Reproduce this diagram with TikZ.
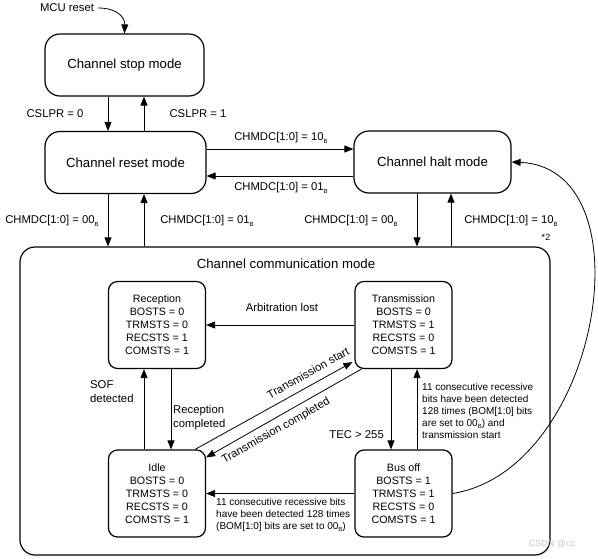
\documentclass[tikz,border=0pt]{standalone}
\usepackage{fontspec}
\setmainfont{Liberation Sans}
\usetikzlibrary{arrows.meta}
\newcommand{\sB}{\raisebox{-0.35ex}{\fontsize{6}{6}\selectfont B}}
\begin{document}
\begin{tikzpicture}[x=1pt,y=-1pt,
  mode/.style={draw, line width=1.2pt, rounded corners=15pt, minimum height=62pt, inner sep=0pt, font=\fontsize{13.2}{15}\selectfont},
  state/.style={draw, line width=1.2pt, rounded corners=9pt, minimum width=97pt, minimum height=87pt, inner sep=0pt, align=center, font=\fontsize{10.7}{13}\selectfont},
  lbl/.style={inner sep=0pt, font=\fontsize{11.3}{14}\selectfont},
  note/.style={inner sep=0pt, align=left, font=\fontsize{10}{11.9}\selectfont},
  arr/.style={line width=0.8pt, -{Triangle[length=9pt,width=7pt]}}]
\useasboundingbox (0,0) rectangle (598,558);

% mode boxes
\node[mode, minimum width=159pt] (stop) at (124.5,65) {Channel stop mode};
\node[mode, minimum width=161pt] (reset) at (125.5,162.5) {Channel reset mode};
\node[mode, minimum width=157pt] (halt) at (432.5,162) {Channel halt mode};
\node[draw, line width=1.2pt, rounded corners=15pt, minimum width=530pt, minimum height=308pt, inner sep=0pt] (comm) at (285,401) {};
\node[inner sep=0pt, font=\fontsize{13.2}{15}\selectfont] (commtitle) at (286,264) {Channel communication mode};

% state boxes
\node[state] (rec) at (157,325) {Reception\\BOSTS = 0\\TRMSTS = 0\\RECSTS = 1\\COMSTS = 1};
\node[state] (trans) at (403.5,325) {Transmission\\BOSTS = 0\\TRMSTS = 1\\RECSTS = 0\\COMSTS = 1};
\node[state] (idle) at (157,493.5) {Idle\\BOSTS = 0\\TRMSTS = 0\\RECSTS = 0\\COMSTS = 1};
\node[state] (busoff) at (403.5,493.5) {Bus off\\BOSTS = 1\\TRMSTS = 1\\RECSTS = 0\\COMSTS = 1};

% helper coordinates
\coordinate (xa) at (108,0);
\coordinate (xb) at (144,0);
\coordinate (xc) at (417,0);
\coordinate (xd) at (451,0);
\coordinate (xf) at (171,0);
\coordinate (xg) at (391,0);
\coordinate (ya) at (0,149);
\coordinate (yb) at (0,176);

% MCU reset
\node[lbl] (mcu) at (67,8) {MCU reset};
\draw[line width=0.8pt, -{Triangle[length=9pt,width=7pt]}] ([xshift=4pt]mcu.east) .. controls (118,8) and (125,18) .. (stop.north);

% stop <-> reset
\draw[arr] (stop.south -| xa) -- (reset.north -| xa);
\draw[arr] (reset.north -| xb) -- (stop.south -| xb);
\node[lbl] (l1) at (55,114) {CSLPR = 0};
\node[lbl] (l2) at (198,114) {CSLPR = 1};

% reset <-> halt
\draw[arr] (reset.east |- ya) -- (halt.west |- ya);
\draw[arr] (halt.west |- yb) -- (reset.east |- yb);
\node[lbl] (l3) at (281,138) {CHMDC[1:0] = 10\sB};
\node[lbl] (l4) at (281,188) {CHMDC[1:0] = 01\sB};

% reset <-> comm
\draw[arr] (reset.south -| xa) -- (comm.north -| xa);
\draw[arr] (comm.north -| xb) -- (reset.south -| xb);
\node[lbl] (l5) at (52,221) {CHMDC[1:0] = 00\sB};
\node[lbl] (l6) at (207,221) {CHMDC[1:0] = 01\sB};

% halt <-> comm
\draw[arr] (halt.south -| xc) -- (comm.north -| xc);
\draw[arr] (comm.north -| xd) -- (halt.south -| xd);
\node[lbl] (l7) at (351,221) {CHMDC[1:0] = 00\sB};
\node[lbl] (l8) at (511,221) {CHMDC[1:0] = 10\sB};
\node[inner sep=0pt, font=\fontsize{9}{10}\selectfont] (l9) at (546,237) {*2};

% bus off -> halt curve
\draw[arr] (busoff.east) .. controls (600,470) and (650,168) .. (halt.east);

% arbitration lost
\draw[arr] (trans.west) -- (rec.east);
\node[lbl] (l10) at (282,307) {Arbitration lost};

% SOF detected / reception completed
\draw[arr] (idle.north -| xb) -- (rec.south -| xb);
\draw[arr] (rec.south -| xf) -- (idle.north -| xf);
\node[lbl, align=left, anchor=west] (l11) at (90,392) {SOF\\detected};
\node[lbl, align=left, anchor=west] (l12) at (173,418) {Reception\\completed};

% transmission start / completed
\draw[arr] ([xshift=-11pt]idle.north east) -- ([xshift=-2pt,yshift=7pt]trans.south west);
\draw[arr] ([xshift=7pt]trans.south west) -- ([yshift=-8pt]idle.north east);
\node[lbl, rotate=29.4] (l13) at (308,373) {Transmission start};
\node[lbl, rotate=29.4] (l14) at (276,431) {Transmission completed};

% TEC > 255 / recovery
\draw[arr] (trans.south -| xg) -- (busoff.north -| xg);
\draw[arr] (busoff.north -| xc) -- (trans.south -| xc);
\node[lbl, anchor=east] (l15) at (384,435) {TEC > 255};
\node[note, anchor=west] (l16) at (422,411) {11 consecutive recessive\\bits have been detected\\128 times (BOM[1:0] bits\\are set to 00\sB) and\\transmission start};

% bus off -> idle
\draw[arr] (busoff.west) -- (idle.east);
\node[note, anchor=west] (l17) at (216,515) {11 consecutive recessive bits\\have been detected 128 times\\(BOM[1:0] bits are set to 00\sB)};

% watermark
\node[inner sep=0pt, text=gray!45, font=\fontsize{9}{10}\selectfont] (wm) at (552,544) {CSDN @cc};
\end{tikzpicture}
\end{document}
